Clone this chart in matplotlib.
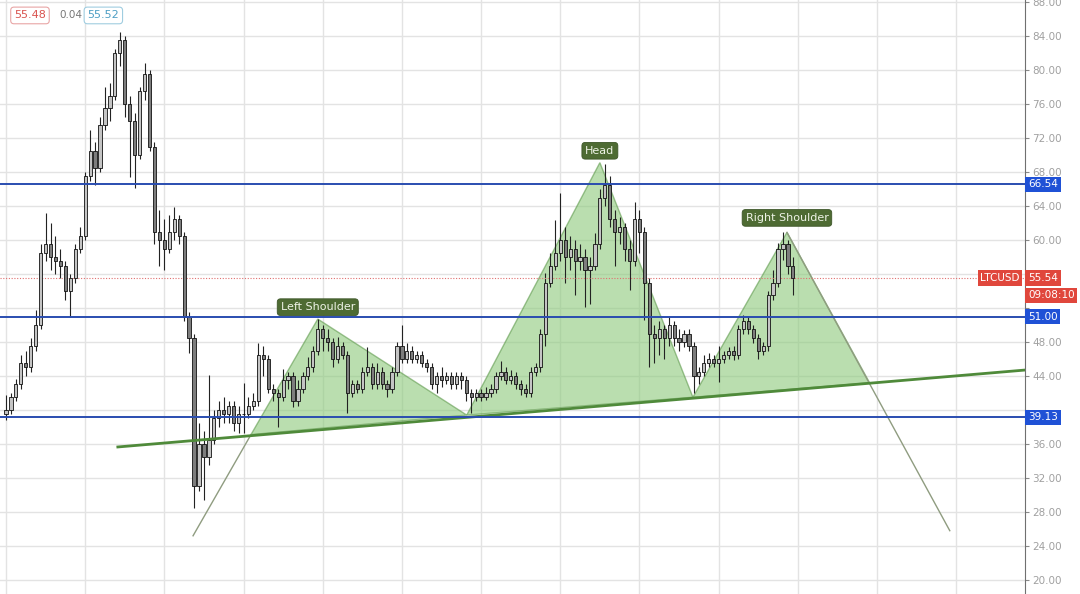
import numpy as np
import matplotlib.pyplot as plt
from matplotlib.patches import Polygon

# daily candles (LTCUSD)
close = [
    40.0, 41.5, 43.0, 45.5, 45.0, 47.5, 50.0, 58.5, 59.5, 58.0,
    57.5, 57.0, 54.0, 55.5, 59.0, 60.5, 67.5, 70.5, 68.5, 73.5,
    75.5, 77.0, 82.0, 83.5, 76.0, 74.0, 70.0, 77.5, 79.5, 71.0,
    61.0, 60.0, 59.0, 61.0, 62.5, 60.5, 51.0, 48.5, 31.0, 36.0,
    34.5, 36.5, 39.0, 40.0, 39.5, 40.5, 38.5, 39.5, 39.5, 40.5,
    41.0, 46.5, 46.0, 42.5, 42.0, 41.5, 43.5, 44.0, 41.0, 42.5,
    44.0, 45.0, 47.0, 49.5, 48.5, 48.0, 46.0, 47.5, 46.5, 42.0,
    43.0, 42.5, 44.5, 45.0, 43.0, 44.5, 43.0, 42.5, 44.5, 47.5,
    46.0, 47.0, 46.0, 46.5, 45.5, 45.0, 43.0, 44.0, 43.5, 44.0,
    43.0, 44.0, 43.5, 42.0, 41.5, 42.0, 41.5, 42.0, 42.5, 44.0,
    44.5, 43.5, 44.0, 43.0, 42.5, 42.0, 44.5, 45.0, 49.0, 55.0,
    57.0, 58.5, 60.0, 58.0, 59.0, 57.5, 58.0, 56.5, 57.0, 59.5,
    65.0, 66.5, 62.5, 61.0, 61.5, 59.0, 57.5, 62.5, 61.0, 55.0,
    49.0, 48.5, 49.5, 48.5, 50.0, 48.5, 48.0, 49.0, 47.5, 44.0,
    44.5, 45.5, 46.0, 45.5, 46.0, 46.5, 47.0, 46.5, 49.5, 50.5,
    49.5, 48.5, 47.0, 47.5, 53.5, 55.0, 59.0, 59.5, 57.0, 55.54,
]
high = [
    41.8, 42.0, 43.6, 46.5, 47.0, 48.5, 51.8, 59.5, 63.2, 62.0,
    60.5, 59.0, 57.5, 56.0, 59.5, 61.5, 68.0, 72.9, 71.5, 74.5,
    78.0, 78.5, 82.5, 84.5, 84.0, 77.0, 75.0, 78.0, 80.8, 80.0,
    71.5, 63.5, 62.5, 63.0, 63.9, 63.0, 61.0, 51.5, 49.0, 38.5,
    37.5, 44.1, 40.0, 41.0, 41.5, 41.0, 41.0, 40.5, 43.2, 41.5,
    42.0, 47.9, 47.5, 46.5, 43.0, 42.5, 44.8, 44.5, 44.5, 43.5,
    44.5, 46.2, 47.5, 50.7, 50.0, 49.5, 48.5, 48.6, 48.0, 47.0,
    43.5, 43.5, 45.0, 47.4, 45.5, 45.5, 45.0, 43.5, 45.0, 48.0,
    50.0, 47.9, 47.5, 47.0, 47.0, 46.0, 45.5, 44.5, 45.0, 44.5,
    44.5, 44.5, 44.5, 44.0, 42.5, 42.5, 42.5, 42.7, 43.0, 44.5,
    45.8, 45.0, 44.7, 44.5, 43.5, 43.0, 45.0, 45.5, 49.5, 56.1,
    58.5, 62.4, 65.5, 61.5, 60.5, 60.0, 59.5, 59.0, 58.0, 60.8,
    66.0, 69.0, 67.5, 63.5, 62.7, 62.0, 60.0, 64.5, 63.5, 61.5,
    55.5, 50.0, 50.5, 50.0, 50.9, 50.5, 49.5, 49.4, 49.5, 48.0,
    45.0, 46.5, 46.7, 46.5, 47.5, 47.0, 47.4, 47.5, 50.0, 51.2,
    51.0, 50.0, 49.0, 48.0, 54.0, 56.5, 59.6, 60.9, 60.0, 58.0,
]
low = [
    38.8, 39.5, 41.0, 42.5, 44.0, 44.5, 47.0, 49.5, 57.5, 56.5,
    56.0, 55.5, 53.0, 51.0, 55.0, 58.5, 60.0, 67.0, 66.5, 68.0,
    73.0, 74.0, 76.5, 80.5, 74.5, 67.4, 66.1, 69.5, 76.5, 70.5,
    59.5, 57.0, 56.5, 58.5, 60.0, 59.5, 50.5, 46.7, 28.5, 30.5,
    29.4, 33.5, 36.0, 38.0, 38.5, 38.5, 37.5, 37.3, 37.3, 39.0,
    40.0, 40.5, 44.0, 42.0, 41.0, 38.0, 41.0, 42.5, 40.4, 40.5,
    42.0, 43.5, 44.5, 46.5, 47.0, 47.0, 45.0, 45.5, 46.0, 39.6,
    41.5, 42.0, 42.0, 44.0, 42.5, 42.5, 42.5, 41.5, 42.0, 44.0,
    45.5, 45.5, 45.5, 45.5, 45.0, 44.5, 42.5, 42.0, 42.7, 43.0,
    42.5, 42.5, 42.5, 41.0, 39.6, 41.0, 41.0, 41.2, 41.5, 42.0,
    43.5, 43.0, 43.0, 42.5, 41.8, 41.5, 41.5, 44.0, 44.5, 47.5,
    54.5, 56.5, 57.5, 55.0, 56.5, 53.5, 56.5, 52.1, 52.5, 56.5,
    59.0, 64.0, 61.5, 57.0, 59.5, 57.5, 54.1, 57.0, 58.5, 50.6,
    45.0, 45.5, 46.5, 46.0, 47.5, 47.5, 47.0, 47.4, 47.0, 42.0,
    43.0, 44.0, 45.0, 45.0, 43.3, 45.5, 46.0, 45.9, 46.0, 49.0,
    49.0, 47.9, 46.0, 46.5, 47.0, 53.0, 54.5, 57.6, 56.0, 53.5,
]
first_open = 39.5

# head & shoulders drawing (bar index, price)
left_shoulder = [(49.5, 37.1), (63.0, 50.7), (93.1, 39.4)]
head = [(93.1, 39.4), (120.0, 69.1), (138.8, 41.5)]
right_shoulder = [(138.8, 41.5), (157.8, 60.9), (174.5, 43.2)]
neckline = [(22.6, 35.65), (205.9, 44.7)]
left_leg = [(37.8, 25.2), (49.5, 37.1)]
target_leg = [(157.8, 60.9), (190.7, 25.8)]

levels = [66.54, 51.00, 39.13]
last_price = 55.54
y_ticks = list(range(20, 89, 4))
hidden_ticks = [40, 52, 56]  # covered by the price boxes on the chart

opens = [first_open] + close[:-1]
x = np.arange(len(close))

fig = plt.figure(figsize=(10.8, 5.94), dpi=100)
ax = fig.add_axes([0, 0, 1025 / 1080, 1])
ax.set_xlim(-1.21, 205.9)
ax.set_ylim(18.35, 88.24)

# grid
ax.set_yticks(y_ticks)
ax.set_yticklabels(["" if v in hidden_ticks else f"{v:.2f}" for v in y_ticks])
ax.set_xticks(np.arange(0, 206, 16))
ax.grid(True, color="#e3e3e3", linewidth=1)
ax.set_axisbelow(True)
ax.yaxis.tick_right()
ax.tick_params(axis="y", colors="#8a8a8a", labelsize=7.5, length=3, direction="out", pad=2)
ax.tick_params(axis="y", labelcolor="#a0a0a0")
ax.tick_params(axis="x", length=0, labelbottom=False)
for s in ["left", "top", "bottom"]:
    ax.spines[s].set_visible(False)
ax.spines["right"].set_color("#707070")

# candles
o = np.array(opens)
c = np.array(close)
up = c >= o
ax.vlines(x, low, high, color="#222222", linewidth=0.8, zorder=3)
ax.bar(x[up], (c - o)[up], bottom=o[up], width=0.65, color="#c4c4c4",
       edgecolor="#111111", linewidth=0.6, zorder=4)
ax.bar(x[~up], (o - c)[~up], bottom=c[~up], width=0.65, color="#7d7d7d",
       edgecolor="#111111", linewidth=0.6, zorder=4)

# pattern
for tri in [left_shoulder, head, right_shoulder]:
    ax.add_patch(Polygon(tri, closed=True, facecolor="#8cc97a", alpha=0.6,
                         edgecolor="#5f9a4d", linewidth=1.0, zorder=2))
for leg in [left_leg, target_leg]:
    lx, ly = zip(*leg)
    ax.plot(lx, ly, color="#8f9c80", linewidth=1.0, zorder=2)
nx, ny = zip(*neckline)
ax.plot(nx, ny, color="#4f8a3a", linewidth=2, zorder=5)

lab = dict(ha="center", va="center", fontsize=8, color="#eef3e6", zorder=8,
           bbox=dict(boxstyle="round,pad=0.3", fc="#4e6b33", ec="#3d5628", lw=0.6))
ax.text(63.0, 52.1, "Left Shoulder", **lab)
ax.text(120.0, 70.5, "Head", **lab)
ax.text(157.8, 62.6, "Right Shoulder", **lab)

# horizontal levels
for lv in levels:
    ax.axhline(lv, color="#2a4db0", linewidth=1.4, zorder=6)
    ax.text(1.003, lv, f"{lv:.2f}", transform=ax.get_yaxis_transform(), ha="left",
            va="center", fontsize=7.5, color="white", clip_on=False, zorder=10,
            bbox=dict(boxstyle="square,pad=0.25", fc="#1f51d6", ec="none"))

# last price
ax.axhline(last_price, color="#e07070", linewidth=0.8, linestyle=(0, (1, 1.5)), zorder=3)
tr = ax.get_yaxis_transform()
ax.text(1.003, last_price, f"{last_price:.2f}", transform=tr, ha="left", va="center",
        fontsize=7.5, color="white", clip_on=False, zorder=10,
        bbox=dict(boxstyle="square,pad=0.25", fc="#e0473c", ec="none"))
ax.text(0.995, last_price, "LTCUSD", transform=tr, ha="right", va="center",
        fontsize=7.5, color="white", clip_on=False, zorder=10,
        bbox=dict(boxstyle="square,pad=0.25", fc="#e0473c", ec="none"))
ax.text(1.003, 53.5, "09:08:10", transform=tr, ha="left", va="center",
        fontsize=7.5, color="white", clip_on=False, zorder=10,
        bbox=dict(boxstyle="square,pad=0.25", fc="#e0473c", ec="none"))

# bid / ask boxes
fig.text(0.013, 0.974, "55.48", fontsize=8, color="#d9534f", va="center",
         bbox=dict(boxstyle="round,pad=0.3", fc="white", ec="#e8a5a5", lw=0.8))
fig.text(0.055, 0.974, "0.04", fontsize=7.5, color="#777777", va="center")
fig.text(0.081, 0.974, "55.52", fontsize=8, color="#4d9ec4", va="center",
         bbox=dict(boxstyle="round,pad=0.3", fc="white", ec="#a0cde0", lw=0.8))

fig.savefig("out.png", dpi=100)
